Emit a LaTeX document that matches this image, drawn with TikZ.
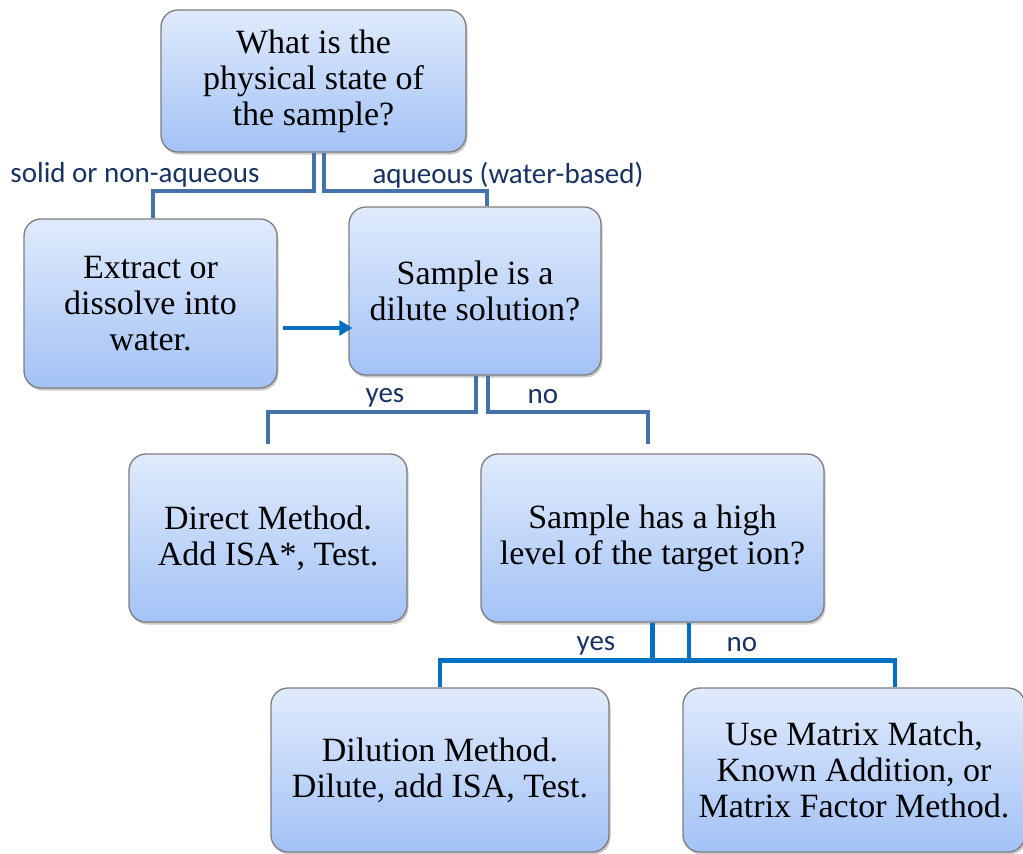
\documentclass[tikz,border=0pt]{standalone}
\usepackage{fontspec}
\setmainfont{Liberation Serif}
\newfontfamily\lblfont{Carlito}
\usetikzlibrary{shadows,arrows.meta}
\definecolor{boxtop}{RGB}{224,235,252}
\definecolor{boxbot}{RGB}{163,194,246}
\definecolor{boxline}{RGB}{125,125,125}
\definecolor{steel}{RGB}{70,114,170}
\definecolor{brightblue}{RGB}{0,112,192}
\definecolor{navy}{RGB}{23,50,100}
\tikzset{
  qbox/.style={draw=boxline, line width=1.3pt, rounded corners=17pt,
    top color=boxtop, bottom color=boxbot, align=center,
    font=\fontsize{34}{36}\selectfont, inner sep=0pt,
    drop shadow={shadow xshift=1.5pt, shadow yshift=-2.5pt, opacity=0.35, fill=black!60}},
  connA/.style={draw=steel, line width=4pt},
  connB/.style={draw=brightblue, line width=4.5pt},
  lbl/.style={text=navy, font=\lblfont\fontsize{29}{32}\selectfont, inner sep=0pt},
}
\begin{document}
\begin{tikzpicture}[x=1pt,y=-1pt]
\useasboundingbox (0,0) rectangle (1023,854);
\node[qbox, minimum width=305pt, minimum height=142pt] (q1) at (313.5,81) {What is the\\physical state of\\the sample?};
\node[qbox, minimum width=253pt, minimum height=169pt] (extract) at (150.5,303.5) {Extract or\\dissolve into\\water.};
\node[qbox, minimum width=252pt, minimum height=168pt] (dilute) at (475,291) {Sample is a\\dilute solution?};
\node[qbox, minimum width=278pt, minimum height=168pt] (direct) at (268,538) {Direct Method.\\Add ISA*, Test.};
\node[qbox, minimum width=343pt, minimum height=168pt] (high) at (652.5,538) {Sample has a high\\level of the target ion?};
\node[qbox, minimum width=338pt, minimum height=164pt] (dilution) at (440,770) {Dilution Method.\\Dilute, add ISA, Test.};
\node[qbox, minimum width=342pt, minimum height=164pt] (matrix) at (854,770) {Use Matrix Match,\\Known Addition, or\\Matrix Factor Method.};

% top connectors
\draw[connA] (q1.south) -- ++(0,38) -| ([xshift=2.5pt]extract.north);
\draw[connA] ([xshift=10pt]q1.south) -- ++(0,38) -| ([xshift=12pt]dilute.north);
\node[lbl] (l1) at (135,175) {solid or non-aqueous};
\node[lbl] (l2) at (508,175) {aqueous (water-based)};

% arrow
\draw[draw=brightblue, line width=3.5pt, -{Triangle[length=13pt,width=15pt]}] ([xshift=5pt,yshift=-24.5pt]extract.east) -- ([xshift=4pt,yshift=-37pt]dilute.west);

% middle connectors
\draw[connA] ([xshift=1pt]dilute.south) -- ++(0,36) -| ([yshift=9pt]direct.north);
\draw[connA] ([xshift=13pt]dilute.south) -- ++(0,36) -| ([xshift=-4.5pt,yshift=9pt]high.north);
\node[lbl] (l3) at (385,398) {yes};
\node[lbl] (l4) at (543,397) {no};

% bottom connectors
\draw[connB] (high.south) -- ++(0,38) -| (dilution.north);
\draw[connB] ([xshift=36.5pt]high.south) -- ++(0,38) -| ([xshift=41pt]matrix.north);
\draw[connB] ([yshift=-38pt]high.south) -- ++(36.5,0);
\node[lbl] (l5) at (596,646) {yes};
\node[lbl] (l6) at (742,645) {no};
\end{tikzpicture}
\end{document}
